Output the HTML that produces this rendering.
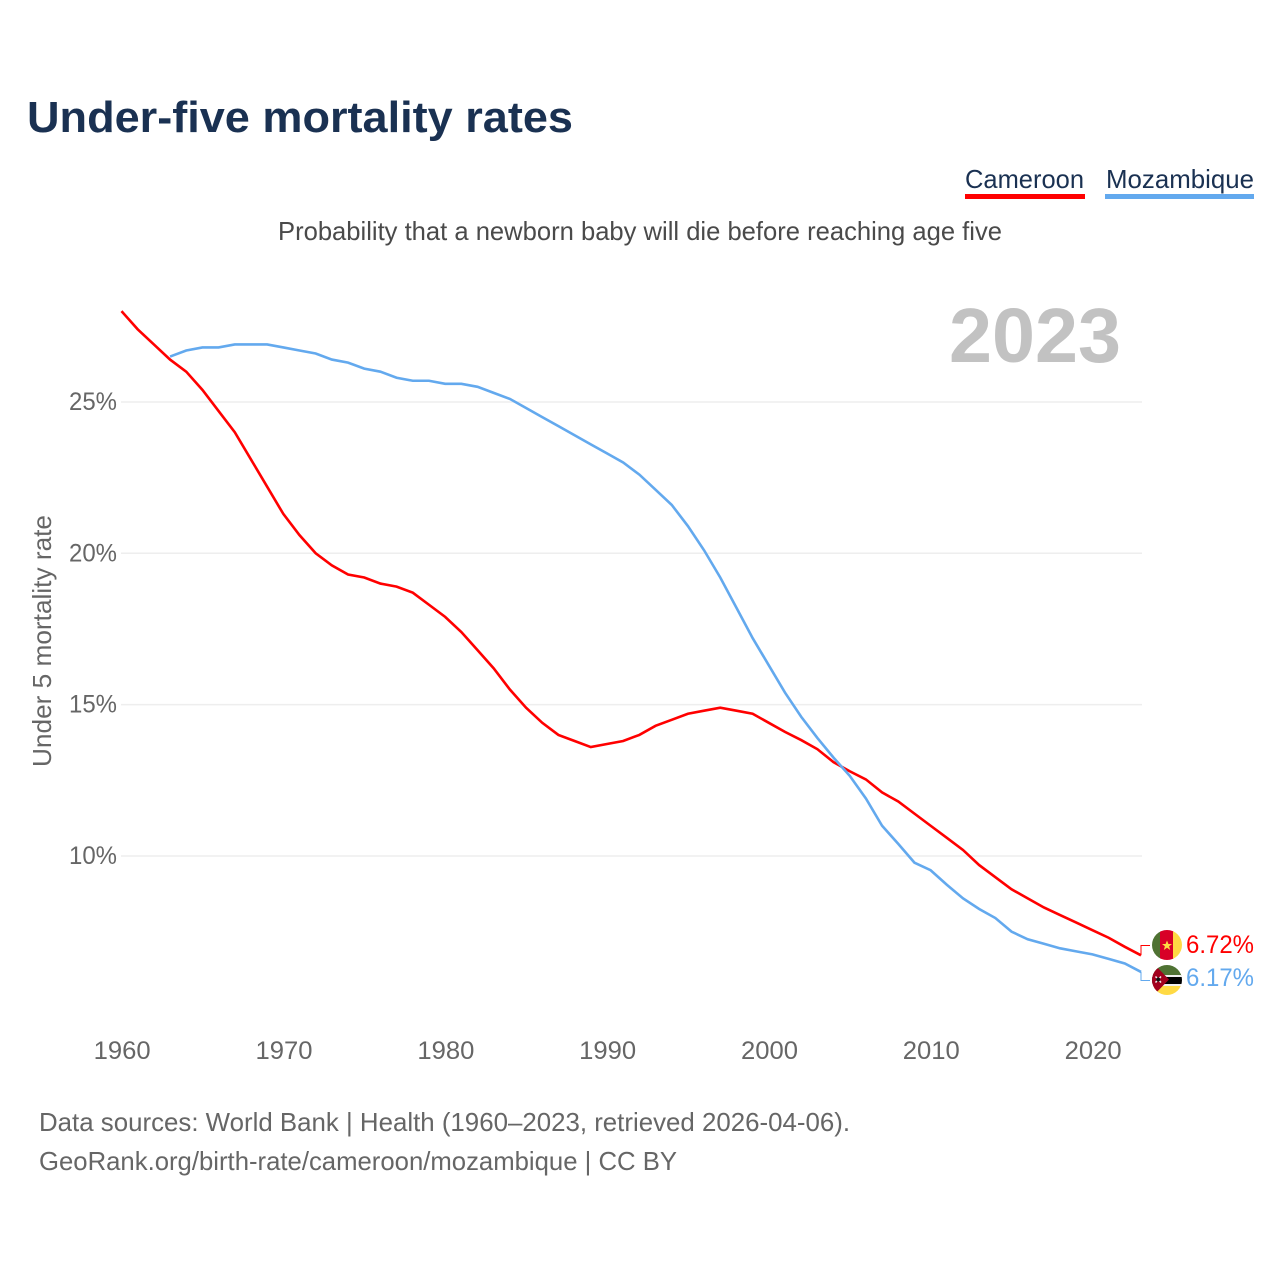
<!DOCTYPE html>
<html lang="en">
<head>
<meta charset="utf-8">
<title>Under-five mortality rates</title>
<style>
html,body{margin:0;padding:0;background:#fff}
svg{display:block;font-family:"Liberation Sans",sans-serif}
</style>
</head>
<body>
<svg id="chart" xmlns="http://www.w3.org/2000/svg" width="1280" height="1280" viewBox="0 0 1280 1280">
  <rect width="1280" height="1280" fill="#fff"/>
  <text x="27" y="132" font-size="44" font-weight="700" fill="#1a3152" textLength="546" lengthAdjust="spacingAndGlyphs">Under-five mortality rates</text>
  <g>
    <g>
      <text x="965" y="188" font-size="26" fill="#1a3152" textLength="119" lengthAdjust="spacingAndGlyphs">Cameroon</text>
      <rect x="965" y="194" width="120" height="5" fill="#ff0000"/>
    </g>
    <g>
      <text x="1106" y="188" font-size="26" fill="#1a3152" textLength="148" lengthAdjust="spacingAndGlyphs">Mozambique</text>
      <rect x="1105" y="194" width="149" height="5" fill="#63a9ee"/>
    </g>
  </g>
  <text x="278" y="240" font-size="26" fill="#4a4a4a" textLength="724" lengthAdjust="spacingAndGlyphs">Probability that a newborn baby will die before reaching age five</text>
  <text x="949" y="362" font-size="77" font-weight="700" fill="#c2c2c2" textLength="172" lengthAdjust="spacingAndGlyphs">2023</text>
  <g id="grid"></g>
  <g id="yticks"></g>
  <g id="xticks"></g>
  <text transform="translate(51,767) rotate(-90)" x="0" y="0" font-size="26" fill="#666" textLength="252" lengthAdjust="spacingAndGlyphs">Under 5 mortality rate</text>
  <g id="series"></g>
  <g id="ends">
    <defs>
      <clipPath id="clip-cm"><circle cx="1167" cy="945" r="15"/></clipPath>
      <clipPath id="clip-mz"><circle cx="1167" cy="980" r="15"/></clipPath>
    </defs>
    <g clip-path="url(#clip-cm)">
      <rect x="1152" y="930" width="9" height="30" fill="#4f7233"/>
      <rect x="1160" y="930" width="14" height="30" fill="#d80027"/>
      <rect x="1173" y="930" width="10" height="30" fill="#ffda44"/>
      <polygon points="1167,940.5 1168.4,944 1172,944 1169.1,946.3 1170.2,950 1167,947.8 1163.8,950 1164.9,946.3 1162,944 1165.6,944" fill="#ffda44"/>
    </g>
    <g clip-path="url(#clip-mz)">
      <rect x="1152" y="965" width="30" height="11" fill="#4f7233"/>
      <rect x="1152" y="975" width="30" height="2" fill="#f0f0f0"/>
      <rect x="1152" y="977" width="30" height="7" fill="#000"/>
      <rect x="1152" y="984" width="30" height="2" fill="#f0f0f0"/>
      <rect x="1152" y="986" width="30" height="9" fill="#ffda44"/>
      <polygon points="1152,962 1169,979.5 1152,997" fill="#a2001d"/>
      <path d="M1155.5 976.5l5.5 6M1161 976.5l-5.5 6" stroke="#eee" stroke-width="1.5"/>
      <circle cx="1158.2" cy="979.5" r="2" fill="#111"/>
    </g>
    <text id="label-cameroon" x="1186" y="953" font-size="25" fill="#ff0000" textLength="68" lengthAdjust="spacingAndGlyphs"></text>
    <text id="label-mozambique" x="1186" y="986" font-size="25" fill="#63a9ee" textLength="68" lengthAdjust="spacingAndGlyphs"></text>
  </g>
  <g>
    <text x="39" y="1131" font-size="26" fill="#666" textLength="811" lengthAdjust="spacingAndGlyphs">Data sources: World Bank | Health (1960–2023, retrieved 2026-04-06).</text>
    <text x="39" y="1170" font-size="26" fill="#666" textLength="638" lengthAdjust="spacingAndGlyphs">GeoRank.org/birth-rate/cameroon/mozambique | CC BY</text>
  </g>
</svg>
<script>
const xTickYears = [1960, 1970, 1980, 1990, 2000, 2010, 2020];
const yTickValues = [10, 15, 20, 25];
const cameroonStartYear = 1960;
const cameroonValues = [28.0, 27.4, 26.9, 26.4, 26.0, 25.4, 24.7, 24.0, 23.1, 22.2,
  21.3, 20.6, 20.0, 19.6, 19.3, 19.2, 19.0, 18.9, 18.7, 18.3,
  17.9, 17.4, 16.8, 16.2, 15.5, 14.9, 14.4, 14.0, 13.8, 13.6,
  13.7, 13.8, 14.0, 14.3, 14.5, 14.7, 14.8, 14.9, 14.8, 14.7,
  14.4, 14.1, 13.83, 13.53, 13.1, 12.8, 12.53, 12.1, 11.8, 11.4,
  11.0, 10.6, 10.2, 9.7, 9.3, 8.9, 8.6, 8.3, 8.05, 7.8,
  7.55, 7.3, 7.0, 6.72];
const mozambiqueStartYear = 1963;
const mozambiqueValues = [26.5, 26.7, 26.8, 26.8, 26.9, 26.9, 26.9,
  26.8, 26.7, 26.6, 26.4, 26.3, 26.1, 26.0, 25.8, 25.7, 25.7,
  25.6, 25.6, 25.5, 25.3, 25.1, 24.8, 24.5, 24.2, 23.9, 23.6,
  23.3, 23.0, 22.6, 22.1, 21.6, 20.9, 20.1, 19.2, 18.2, 17.2,
  16.3, 15.4, 14.6, 13.9, 13.25, 12.65, 11.9, 11.0, 10.4, 9.78,
  9.53, 9.05, 8.6, 8.25, 7.95, 7.5, 7.25, 7.1, 6.95, 6.85,
  6.75, 6.6, 6.45, 6.17];

const NS = 'http://www.w3.org/2000/svg';
const xScale = year => 121.5 + (year - 1960) * (1141 - 121.5) / 63;
const yScale = value => 856 - (value - 10) * 30.27;

const gridGroup = document.getElementById('grid');
const yTickGroup = document.getElementById('yticks');
yTickValues.forEach(value => {
  const line = document.createElementNS(NS, 'line');
  
  
  line.setAttribute('x1', 121);
  line.setAttribute('x2', 1142);
  line.setAttribute('y1', yScale(value));
  line.setAttribute('y2', yScale(value));
  line.setAttribute('stroke', '#eeeeee');
  line.setAttribute('stroke-width', 1.5);
  gridGroup.appendChild(line);
  const label = document.createElementNS(NS, 'text');
  
  
  label.setAttribute('x', 117);
  label.setAttribute('y', yScale(value) + 8);
  label.setAttribute('text-anchor', 'end');
  label.setAttribute('font-size', 25);
  label.setAttribute('fill', '#666');
  label.setAttribute('textLength', 48);
  label.setAttribute('lengthAdjust', 'spacingAndGlyphs');
  label.textContent = value + '%';
  yTickGroup.appendChild(label);
});

const xTickGroup = document.getElementById('xticks');
xTickYears.forEach(year => {
  const label = document.createElementNS(NS, 'text');
  
  
  label.setAttribute('x', xScale(year) + 0.7);
  label.setAttribute('y', 1059);
  label.setAttribute('text-anchor', 'middle');
  label.setAttribute('font-size', 25);
  label.setAttribute('fill', '#666');
  label.setAttribute('textLength', 57);
  label.setAttribute('lengthAdjust', 'spacingAndGlyphs');
  label.textContent = year;
  xTickGroup.appendChild(label);
});

const seriesGroup = document.getElementById('series');
function linePoints(startYear, values) {
  return values.map((v, i) => xScale(startYear + i).toFixed(2) + ',' + yScale(v).toFixed(2)).join(' ');
}

const cameroonLine = document.createElementNS(NS, 'polyline');


cameroonLine.setAttribute('points', linePoints(cameroonStartYear, cameroonValues));
cameroonLine.setAttribute('fill', 'none');
cameroonLine.setAttribute('stroke', '#ff0000');
cameroonLine.setAttribute('stroke-width', 2.6);
seriesGroup.appendChild(cameroonLine);

const mozambiqueLine = document.createElementNS(NS, 'polyline');


mozambiqueLine.setAttribute('points', linePoints(mozambiqueStartYear, mozambiqueValues));
mozambiqueLine.setAttribute('fill', 'none');
mozambiqueLine.setAttribute('stroke', '#63a9ee');
mozambiqueLine.setAttribute('stroke-width', 2.6);
seriesGroup.appendChild(mozambiqueLine);

const lastCameroon = cameroonValues[cameroonValues.length - 1];
const lastMozambique = mozambiqueValues[mozambiqueValues.length - 1];
document.getElementById('label-cameroon').textContent = lastCameroon.toFixed(2) + '%';
document.getElementById('label-mozambique').textContent = lastMozambique.toFixed(2) + '%';

const cameroonConnector = document.createElementNS(NS, 'polyline');


cameroonConnector.setAttribute('points', xScale(2023) + ',' + yScale(lastCameroon) + ' ' + xScale(2023) + ',945.5 1150,945.5');
cameroonConnector.setAttribute('fill', 'none');
cameroonConnector.setAttribute('stroke', '#ff0000');
cameroonConnector.setAttribute('stroke-width', 1);
seriesGroup.appendChild(cameroonConnector);

const mozambiqueConnector = document.createElementNS(NS, 'polyline');


mozambiqueConnector.setAttribute('points', xScale(2023) + ',' + yScale(lastMozambique) + ' ' + xScale(2023) + ',980.5 1150,980.5');
mozambiqueConnector.setAttribute('fill', 'none');
mozambiqueConnector.setAttribute('stroke', '#63a9ee');
mozambiqueConnector.setAttribute('stroke-width', 1);
seriesGroup.appendChild(mozambiqueConnector);
</script>
</body>
</html>
